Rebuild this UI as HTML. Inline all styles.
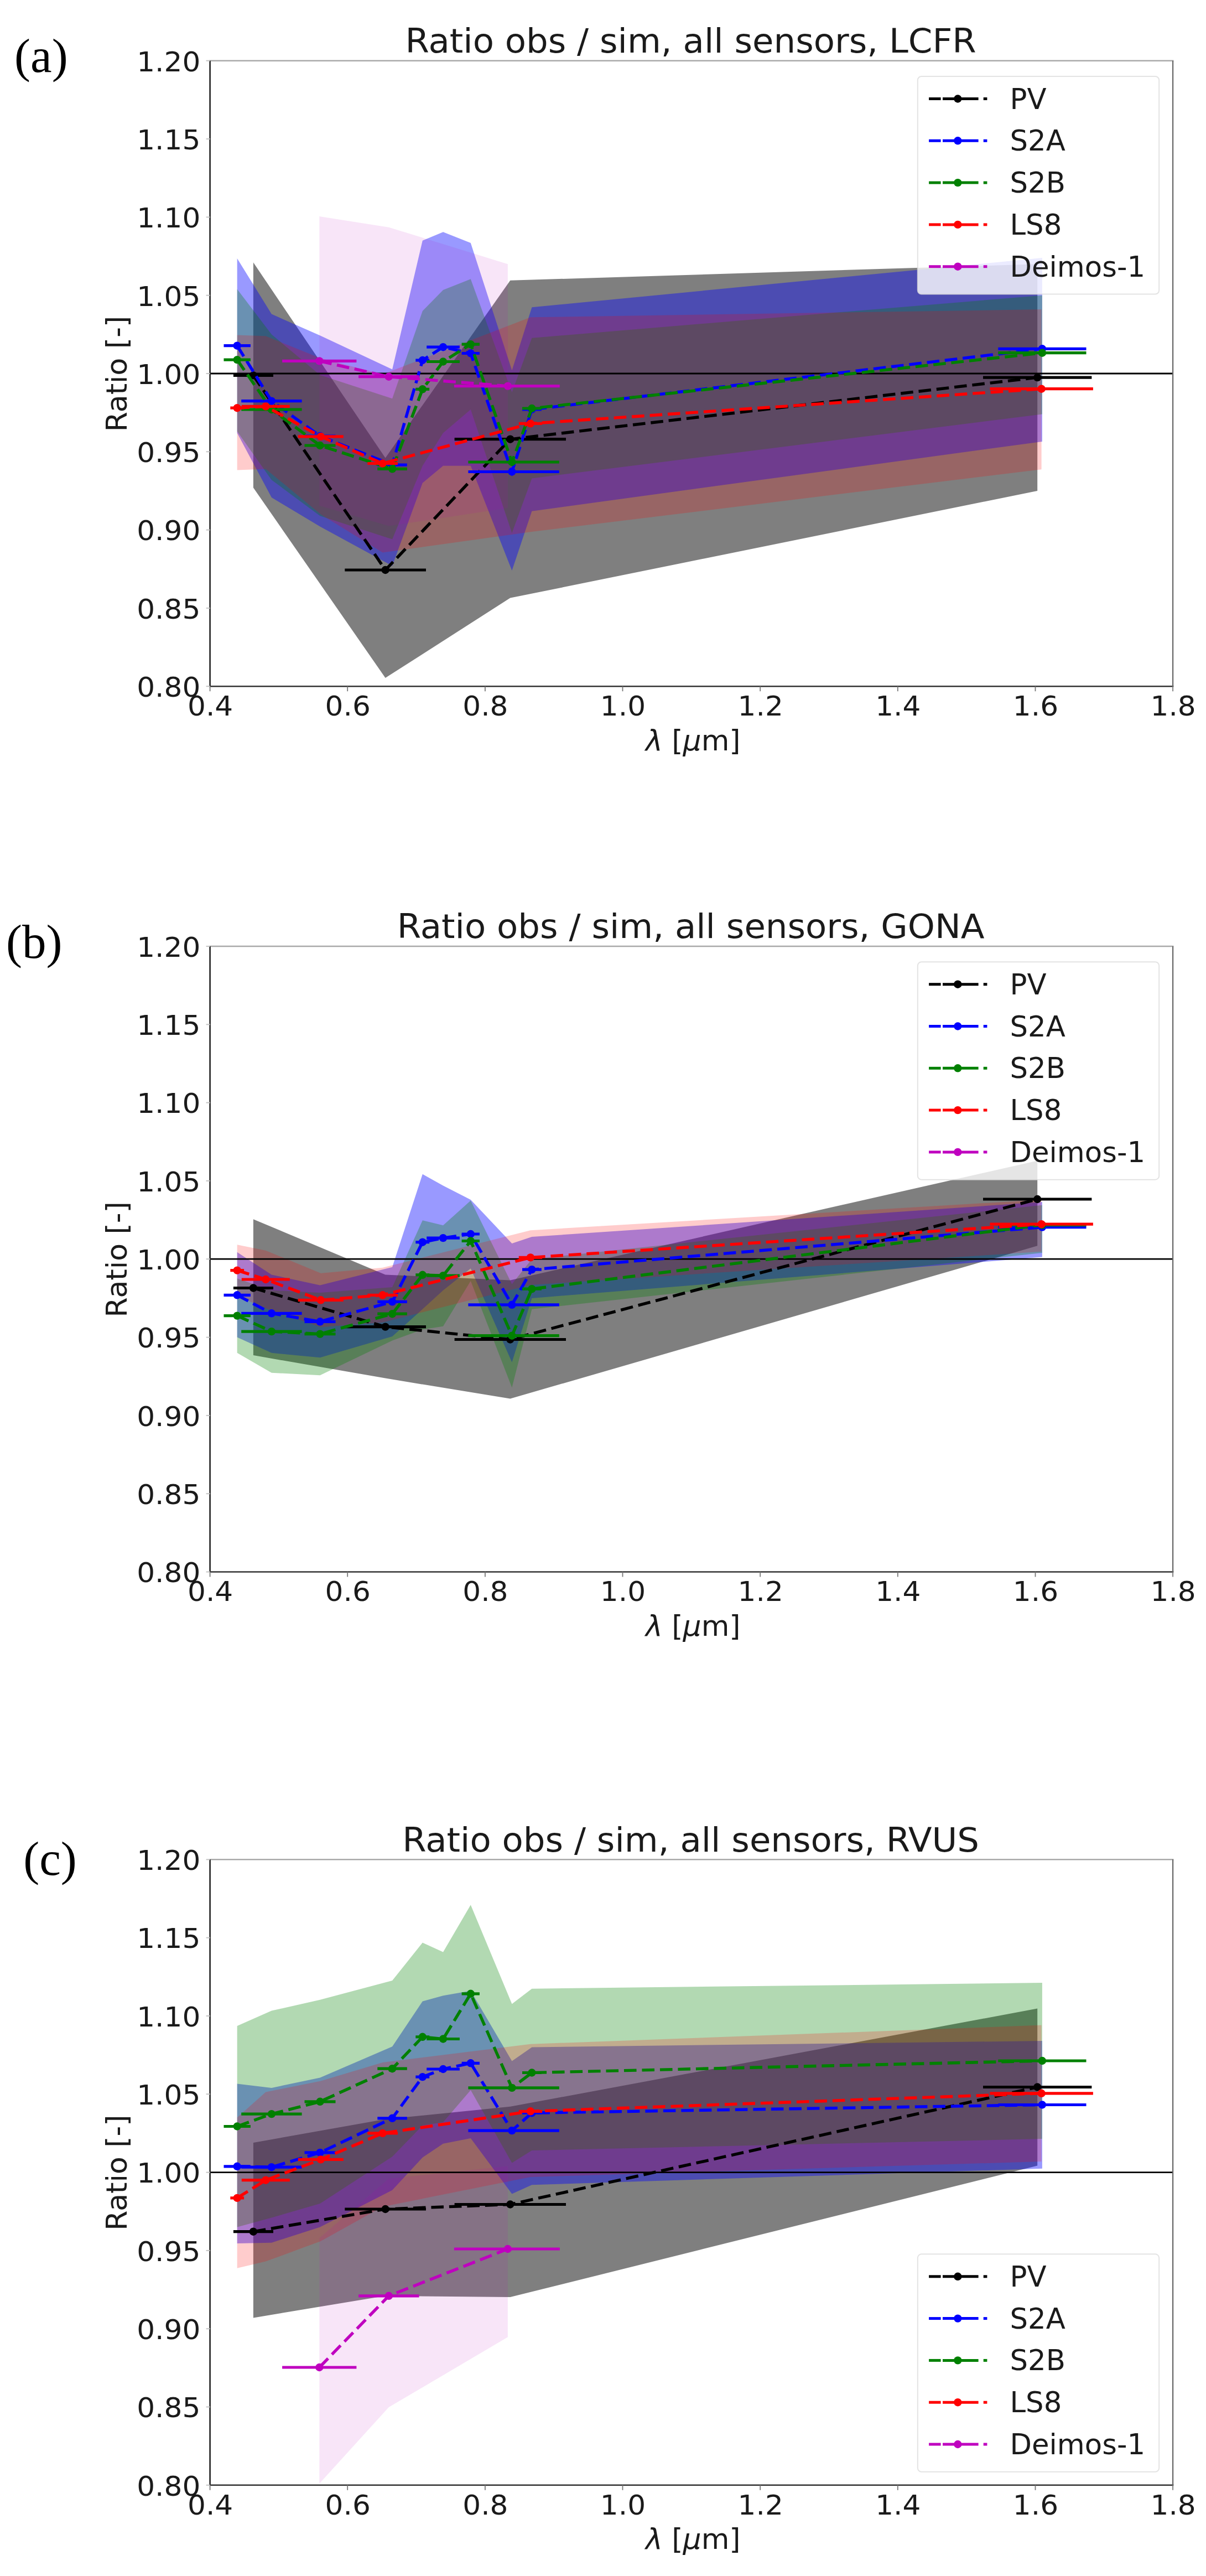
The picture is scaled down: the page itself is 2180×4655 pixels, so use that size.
<!DOCTYPE html>
<html lang="en"><head><meta charset="utf-8"><title>Ratio obs / sim, all sensors</title>
<style>html,body{margin:0;padding:0;background:#fff}body{width:2180px;height:4655px;overflow:hidden}svg{display:block}svg text{font-family:'DejaVu Sans','Liberation Sans',sans-serif;fill:#1a1a1a}svg text.lab{font-family:'Liberation Serif','DejaVu Serif',serif;fill:#000}</style></head><body>
<svg width="2180" height="4655" viewBox="0 0 2180 4655">
<rect width="2180" height="4655" fill="#fff"/>
<g id="chart1">
<clipPath id="clip0"><rect x="379.6" y="109.8" width="1740.5" height="1130.5"/></clipPath>
<g clip-path="url(#clip0)">
<polygon fill="#000000" fill-opacity="0.5" points="457.9,474.3 696.6,827.6 922.3,506.8 1875.2,477.2 1875.2,887.0 922.3,1080.6 696.6,1225.0 457.9,881.3"/>
<polygon fill="#0000ff" fill-opacity="0.4" points="428.7,467.0 490.9,567.6 578.5,606.3 709.1,667.4 763.8,434.8 801.0,419.2 850.8,439.0 925.4,669.3 961.4,555.2 1883.9,465.9 1883.9,797.9 961.4,923.7 925.4,1031.1 850.8,841.7 801.0,841.7 763.8,872.8 709.1,1022.6 578.5,951.4 490.9,899.1 428.7,782.4"/>
<polygon fill="#008000" fill-opacity="0.3" points="428.7,522.4 490.9,604.3 578.5,677.8 709.1,720.2 763.8,561.9 801.0,524.1 850.8,504.3 925.4,708.9 961.4,610.8 1883.9,533.7 1883.9,748.5 961.4,864.4 925.4,963.3 850.8,740.0 801.0,782.4 763.8,841.7 709.1,974.6 578.5,932.2 490.9,867.2 428.7,779.6"/>
<polygon fill="#ff0000" fill-opacity="0.2" points="428.7,605.5 480.3,607.2 579.8,647.6 691.6,676.4 958.9,573.3 1882.6,559.1 1882.6,848.2 958.9,961.3 691.6,998.6 579.8,929.4 480.3,847.4 428.7,849.4"/>
<polygon fill="#bf00bf" fill-opacity="0.1" points="577.3,391.0 702.8,410.7 917.9,477.2 917.9,918.1 702.8,950.6 577.3,913.8"/>
<line x1="379.6" x2="2120.1" y1="675.0" y2="675.0" stroke="#000" stroke-width="2.8"/>
<polyline fill="none" stroke="#000000" stroke-width="5.4" stroke-dasharray="22.6 9.9" points="457.9,678.4 696.6,1030.0 922.3,793.7 1875.2,682.1"/>
<line x1="421.9" x2="494.0" y1="678.4" y2="678.4" stroke="#000000" stroke-width="5.2"/>
<line x1="623.3" x2="770.0" y1="1030.0" y2="1030.0" stroke="#000000" stroke-width="5.2"/>
<line x1="821.6" x2="1023.0" y1="793.7" y2="793.7" stroke="#000000" stroke-width="5.2"/>
<line x1="1777.0" x2="1973.4" y1="682.1" y2="682.1" stroke="#000000" stroke-width="5.2"/>
<circle cx="457.9" cy="678.4" r="7.2" fill="#000000"/>
<circle cx="696.6" cy="1030.0" r="7.2" fill="#000000"/>
<circle cx="922.3" cy="793.7" r="7.2" fill="#000000"/>
<circle cx="1875.2" cy="682.1" r="7.2" fill="#000000"/>
<polyline fill="none" stroke="#0000ff" stroke-width="5.4" stroke-dasharray="22.6 9.9" points="428.7,624.7 490.9,724.7 578.5,788.0 709.1,840.1 763.8,651.0 801.0,627.2 850.8,638.5 925.4,852.5 961.4,740.0 1883.9,630.3"/>
<line x1="404.5" x2="452.9" y1="624.7" y2="624.7" stroke="#0000ff" stroke-width="5.2"/>
<line x1="436.2" x2="545.6" y1="724.7" y2="724.7" stroke="#0000ff" stroke-width="5.2"/>
<line x1="550.5" x2="606.5" y1="788.0" y2="788.0" stroke="#0000ff" stroke-width="5.2"/>
<line x1="682.3" x2="735.8" y1="840.1" y2="840.1" stroke="#0000ff" stroke-width="5.2"/>
<line x1="751.3" x2="776.2" y1="651.0" y2="651.0" stroke="#0000ff" stroke-width="5.2"/>
<line x1="771.2" x2="830.9" y1="627.2" y2="627.2" stroke="#0000ff" stroke-width="5.2"/>
<line x1="834.6" x2="866.9" y1="638.5" y2="638.5" stroke="#0000ff" stroke-width="5.2"/>
<line x1="846.4" x2="1010.8" y1="852.5" y2="852.5" stroke="#0000ff" stroke-width="5.2"/>
<line x1="944.0" x2="978.8" y1="740.0" y2="740.0" stroke="#0000ff" stroke-width="5.2"/>
<line x1="1804.3" x2="1963.5" y1="630.3" y2="630.3" stroke="#0000ff" stroke-width="5.2"/>
<circle cx="428.7" cy="624.7" r="7.2" fill="#0000ff"/>
<circle cx="490.9" cy="724.7" r="7.2" fill="#0000ff"/>
<circle cx="578.5" cy="788.0" r="7.2" fill="#0000ff"/>
<circle cx="709.1" cy="840.1" r="7.2" fill="#0000ff"/>
<circle cx="763.8" cy="651.0" r="7.2" fill="#0000ff"/>
<circle cx="801.0" cy="627.2" r="7.2" fill="#0000ff"/>
<circle cx="850.8" cy="638.5" r="7.2" fill="#0000ff"/>
<circle cx="925.4" cy="852.5" r="7.2" fill="#0000ff"/>
<circle cx="961.4" cy="740.0" r="7.2" fill="#0000ff"/>
<circle cx="1883.9" cy="630.3" r="7.2" fill="#0000ff"/>
<polyline fill="none" stroke="#008000" stroke-width="5.4" stroke-dasharray="22.6 9.9" points="428.7,650.1 490.9,740.0 578.5,805.0 709.1,847.4 763.8,703.3 801.0,653.5 850.8,622.1 925.4,835.0 961.4,738.0 1883.9,637.7"/>
<line x1="404.5" x2="452.9" y1="650.1" y2="650.1" stroke="#008000" stroke-width="5.2"/>
<line x1="436.2" x2="545.6" y1="740.0" y2="740.0" stroke="#008000" stroke-width="5.2"/>
<line x1="550.5" x2="606.5" y1="805.0" y2="805.0" stroke="#008000" stroke-width="5.2"/>
<line x1="682.3" x2="735.8" y1="847.4" y2="847.4" stroke="#008000" stroke-width="5.2"/>
<line x1="751.3" x2="776.2" y1="703.3" y2="703.3" stroke="#008000" stroke-width="5.2"/>
<line x1="771.2" x2="830.9" y1="653.5" y2="653.5" stroke="#008000" stroke-width="5.2"/>
<line x1="834.6" x2="866.9" y1="622.1" y2="622.1" stroke="#008000" stroke-width="5.2"/>
<line x1="846.4" x2="1010.8" y1="835.0" y2="835.0" stroke="#008000" stroke-width="5.2"/>
<line x1="944.0" x2="978.8" y1="738.0" y2="738.0" stroke="#008000" stroke-width="5.2"/>
<line x1="1804.3" x2="1963.5" y1="637.7" y2="637.7" stroke="#008000" stroke-width="5.2"/>
<circle cx="428.7" cy="650.1" r="7.2" fill="#008000"/>
<circle cx="490.9" cy="740.0" r="7.2" fill="#008000"/>
<circle cx="578.5" cy="805.0" r="7.2" fill="#008000"/>
<circle cx="709.1" cy="847.4" r="7.2" fill="#008000"/>
<circle cx="763.8" cy="703.3" r="7.2" fill="#008000"/>
<circle cx="801.0" cy="653.5" r="7.2" fill="#008000"/>
<circle cx="850.8" cy="622.1" r="7.2" fill="#008000"/>
<circle cx="925.4" cy="835.0" r="7.2" fill="#008000"/>
<circle cx="961.4" cy="738.0" r="7.2" fill="#008000"/>
<circle cx="1883.9" cy="637.7" r="7.2" fill="#008000"/>
<polyline fill="none" stroke="#ff0000" stroke-width="5.4" stroke-dasharray="22.6 9.9" points="428.7,737.2 480.3,734.4 579.8,788.9 691.6,837.5 958.9,765.4 1882.6,702.7"/>
<line x1="416.3" x2="441.1" y1="737.2" y2="737.2" stroke="#ff0000" stroke-width="5.2"/>
<line x1="436.8" x2="523.8" y1="734.4" y2="734.4" stroke="#ff0000" stroke-width="5.2"/>
<line x1="538.7" x2="620.8" y1="788.9" y2="788.9" stroke="#ff0000" stroke-width="5.2"/>
<line x1="664.3" x2="719.0" y1="837.5" y2="837.5" stroke="#ff0000" stroke-width="5.2"/>
<line x1="937.8" x2="980.1" y1="765.4" y2="765.4" stroke="#ff0000" stroke-width="5.2"/>
<line x1="1789.4" x2="1975.9" y1="702.7" y2="702.7" stroke="#ff0000" stroke-width="5.2"/>
<circle cx="428.7" cy="737.2" r="7.2" fill="#ff0000"/>
<circle cx="480.3" cy="734.4" r="7.2" fill="#ff0000"/>
<circle cx="579.8" cy="788.9" r="7.2" fill="#ff0000"/>
<circle cx="691.6" cy="837.5" r="7.2" fill="#ff0000"/>
<circle cx="958.9" cy="765.4" r="7.2" fill="#ff0000"/>
<circle cx="1882.6" cy="702.7" r="7.2" fill="#ff0000"/>
<polyline fill="none" stroke="#bf00bf" stroke-width="5.4" stroke-dasharray="22.6 9.9" points="577.3,652.4 702.8,680.7 917.9,697.6"/>
<line x1="510.1" x2="644.4" y1="652.4" y2="652.4" stroke="#bf00bf" stroke-width="5.2"/>
<line x1="648.1" x2="757.5" y1="680.7" y2="680.7" stroke="#bf00bf" stroke-width="5.2"/>
<line x1="820.9" x2="1011.9" y1="697.6" y2="697.6" stroke="#bf00bf" stroke-width="5.2"/>
<circle cx="577.3" cy="652.4" r="7.2" fill="#bf00bf"/>
<circle cx="702.8" cy="680.7" r="7.2" fill="#bf00bf"/>
<circle cx="917.9" cy="697.6" r="7.2" fill="#bf00bf"/>
</g>
<line x1="378.3" x2="2121.4" y1="109.8" y2="109.8" stroke="#a9a9a9" stroke-width="2.6"/>
<line x1="378.3" x2="2121.4" y1="1240.2" y2="1240.2" stroke="#333" stroke-width="2.4"/>
<line x1="379.6" x2="379.6" y1="109.8" y2="1240.2" stroke="#222" stroke-width="2.6"/>
<line x1="2120.1" x2="2120.1" y1="109.8" y2="1240.2" stroke="#666" stroke-width="2.2"/>
<line x1="379.6" x2="379.6" y1="1240.2" y2="1249.2" stroke="#777" stroke-width="1.8"/>
<text transform="translate(380.1 1293.0) scale(1.035 1)" text-anchor="middle" font-size="50">0.4</text>
<line x1="628.2" x2="628.2" y1="1240.2" y2="1249.2" stroke="#777" stroke-width="1.8"/>
<text transform="translate(628.7 1293.0) scale(1.035 1)" text-anchor="middle" font-size="50">0.6</text>
<line x1="876.9" x2="876.9" y1="1240.2" y2="1249.2" stroke="#777" stroke-width="1.8"/>
<text transform="translate(877.4 1293.0) scale(1.035 1)" text-anchor="middle" font-size="50">0.8</text>
<line x1="1125.5" x2="1125.5" y1="1240.2" y2="1249.2" stroke="#777" stroke-width="1.8"/>
<text transform="translate(1126.0 1293.0) scale(1.035 1)" text-anchor="middle" font-size="50">1.0</text>
<line x1="1374.2" x2="1374.2" y1="1240.2" y2="1249.2" stroke="#777" stroke-width="1.8"/>
<text transform="translate(1374.7 1293.0) scale(1.035 1)" text-anchor="middle" font-size="50">1.2</text>
<line x1="1622.8" x2="1622.8" y1="1240.2" y2="1249.2" stroke="#777" stroke-width="1.8"/>
<text transform="translate(1623.3 1293.0) scale(1.035 1)" text-anchor="middle" font-size="50">1.4</text>
<line x1="1871.5" x2="1871.5" y1="1240.2" y2="1249.2" stroke="#777" stroke-width="1.8"/>
<text transform="translate(1872.0 1293.0) scale(1.035 1)" text-anchor="middle" font-size="50">1.6</text>
<line x1="2120.1" x2="2120.1" y1="1240.2" y2="1249.2" stroke="#777" stroke-width="1.8"/>
<text transform="translate(2120.6 1293.0) scale(1.035 1)" text-anchor="middle" font-size="50">1.8</text>
<line x1="372.6" x2="379.6" y1="1240.2" y2="1240.2" stroke="#c4c4c4" stroke-width="2"/>
<text transform="translate(362.4 1259.0) scale(1.035 1)" text-anchor="end" font-size="50">0.80</text>
<line x1="372.6" x2="379.6" y1="1098.9" y2="1098.9" stroke="#c4c4c4" stroke-width="2"/>
<text transform="translate(362.4 1117.7) scale(1.035 1)" text-anchor="end" font-size="50">0.85</text>
<line x1="372.6" x2="379.6" y1="957.6" y2="957.6" stroke="#c4c4c4" stroke-width="2"/>
<text transform="translate(362.4 976.4) scale(1.035 1)" text-anchor="end" font-size="50">0.90</text>
<line x1="372.6" x2="379.6" y1="816.3" y2="816.3" stroke="#c4c4c4" stroke-width="2"/>
<text transform="translate(362.4 835.1) scale(1.035 1)" text-anchor="end" font-size="50">0.95</text>
<line x1="372.6" x2="379.6" y1="675.0" y2="675.0" stroke="#c4c4c4" stroke-width="2"/>
<text transform="translate(362.4 693.8) scale(1.035 1)" text-anchor="end" font-size="50">1.00</text>
<line x1="372.6" x2="379.6" y1="533.7" y2="533.7" stroke="#c4c4c4" stroke-width="2"/>
<text transform="translate(362.4 552.5) scale(1.035 1)" text-anchor="end" font-size="50">1.05</text>
<line x1="372.6" x2="379.6" y1="392.4" y2="392.4" stroke="#c4c4c4" stroke-width="2"/>
<text transform="translate(362.4 411.2) scale(1.035 1)" text-anchor="end" font-size="50">1.10</text>
<line x1="372.6" x2="379.6" y1="251.1" y2="251.1" stroke="#c4c4c4" stroke-width="2"/>
<text transform="translate(362.4 269.9) scale(1.035 1)" text-anchor="end" font-size="50">1.15</text>
<line x1="372.6" x2="379.6" y1="109.7" y2="109.7" stroke="#c4c4c4" stroke-width="2"/>
<text transform="translate(362.4 128.5) scale(1.035 1)" text-anchor="end" font-size="50">1.20</text>
<text transform="translate(1248.6 95.0) scale(1.025 1)" text-anchor="middle" font-size="61">Ratio obs / sim, all sensors, LCFR</text>
<text x="1252.8" y="1355.7" text-anchor="middle" font-size="52"><tspan font-style="italic">λ</tspan> [<tspan font-style="italic">μ</tspan>m]</text>
<text transform="translate(228.7 675.5) rotate(-90)" text-anchor="middle" font-size="52">Ratio [-]</text>
<rect x="1658.8" y="138.0" width="436.4" height="393.5" rx="7" ry="7" fill="#fff" fill-opacity="0.8" stroke="#dcdcdc" stroke-opacity="0.8" stroke-width="2"/>
<line x1="1679.1" x2="1700.6" y1="178.5" y2="178.5" stroke="#000000" stroke-width="5"/>
<line x1="1704" x2="1768.6" y1="178.5" y2="178.5" stroke="#000000" stroke-width="5"/>
<line x1="1777.7" x2="1784.4" y1="178.5" y2="178.5" stroke="#000000" stroke-width="5"/>
<circle cx="1731.3" cy="178.5" r="7.2" fill="#000000"/>
<text x="1825.5" y="196.5" font-size="51.3">PV</text>
<line x1="1679.1" x2="1700.6" y1="254.3" y2="254.3" stroke="#0000ff" stroke-width="5"/>
<line x1="1704" x2="1768.6" y1="254.3" y2="254.3" stroke="#0000ff" stroke-width="5"/>
<line x1="1777.7" x2="1784.4" y1="254.3" y2="254.3" stroke="#0000ff" stroke-width="5"/>
<circle cx="1731.3" cy="254.3" r="7.2" fill="#0000ff"/>
<text x="1825.5" y="272.3" font-size="51.3">S2A</text>
<line x1="1679.1" x2="1700.6" y1="330.1" y2="330.1" stroke="#008000" stroke-width="5"/>
<line x1="1704" x2="1768.6" y1="330.1" y2="330.1" stroke="#008000" stroke-width="5"/>
<line x1="1777.7" x2="1784.4" y1="330.1" y2="330.1" stroke="#008000" stroke-width="5"/>
<circle cx="1731.3" cy="330.1" r="7.2" fill="#008000"/>
<text x="1825.5" y="348.1" font-size="51.3">S2B</text>
<line x1="1679.1" x2="1700.6" y1="405.9" y2="405.9" stroke="#ff0000" stroke-width="5"/>
<line x1="1704" x2="1768.6" y1="405.9" y2="405.9" stroke="#ff0000" stroke-width="5"/>
<line x1="1777.7" x2="1784.4" y1="405.9" y2="405.9" stroke="#ff0000" stroke-width="5"/>
<circle cx="1731.3" cy="405.9" r="7.2" fill="#ff0000"/>
<text x="1825.5" y="423.9" font-size="51.3">LS8</text>
<line x1="1679.1" x2="1700.6" y1="481.7" y2="481.7" stroke="#bf00bf" stroke-width="5"/>
<line x1="1704" x2="1768.6" y1="481.7" y2="481.7" stroke="#bf00bf" stroke-width="5"/>
<line x1="1777.7" x2="1784.4" y1="481.7" y2="481.7" stroke="#bf00bf" stroke-width="5"/>
<circle cx="1731.3" cy="481.7" r="7.2" fill="#bf00bf"/>
<text x="1825.5" y="499.7" font-size="51.3">Deimos-1</text>
</g>
<g id="chart2">
<clipPath id="clip1"><rect x="379.6" y="1710.0" width="1740.5" height="1130.5"/></clipPath>
<g clip-path="url(#clip1)">
<polygon fill="#000000" fill-opacity="0.5" points="457.9,2203.2 696.6,2303.5 922.3,2313.4 1875.2,2097.5 1875.2,2251.2 922.3,2527.6 696.6,2490.6 457.9,2449.1"/>
<polygon fill="#0000ff" fill-opacity="0.4" points="428.7,2262.8 490.9,2303.5 578.5,2322.4 709.1,2289.7 763.8,2121.8 801.0,2142.4 850.8,2167.9 925.4,2247.0 961.4,2235.1 1883.9,2172.1 1883.9,2271.6 961.4,2345.9 925.4,2461.8 850.8,2292.2 801.0,2331.8 763.8,2365.7 709.1,2415.1 578.5,2453.3 490.9,2444.8 428.7,2416.6"/>
<polygon fill="#008000" fill-opacity="0.3" points="428.7,2310.3 490.9,2331.8 578.5,2336.0 709.1,2326.1 763.8,2205.2 801.0,2214.2 850.8,2169.5 925.4,2320.5 961.4,2275.2 1883.9,2177.7 1883.9,2263.9 961.4,2365.7 925.4,2507.6 850.8,2314.8 801.0,2396.8 763.8,2402.4 709.1,2422.5 578.5,2485.2 490.9,2480.7 428.7,2444.8"/>
<polygon fill="#ff0000" fill-opacity="0.2" points="428.7,2249.2 480.3,2259.7 579.8,2300.7 691.6,2290.8 958.9,2223.2 1882.6,2167.9 1882.6,2261.7 958.9,2321.9 691.6,2389.7 579.8,2398.2 480.3,2364.3 428.7,2341.9"/>
<line x1="379.6" x2="2120.1" y1="2275.2" y2="2275.2" stroke="#000" stroke-width="2.8"/>
<polyline fill="none" stroke="#000000" stroke-width="5.4" stroke-dasharray="22.6 9.9" points="457.9,2327.5 696.6,2397.6 922.3,2420.5 1875.2,2167.0"/>
<line x1="421.9" x2="494.0" y1="2327.5" y2="2327.5" stroke="#000000" stroke-width="5.2"/>
<line x1="623.3" x2="770.0" y1="2397.6" y2="2397.6" stroke="#000000" stroke-width="5.2"/>
<line x1="821.6" x2="1023.0" y1="2420.5" y2="2420.5" stroke="#000000" stroke-width="5.2"/>
<line x1="1777.0" x2="1973.4" y1="2167.0" y2="2167.0" stroke="#000000" stroke-width="5.2"/>
<circle cx="457.9" cy="2327.5" r="7.2" fill="#000000"/>
<circle cx="696.6" cy="2397.6" r="7.2" fill="#000000"/>
<circle cx="922.3" cy="2420.5" r="7.2" fill="#000000"/>
<circle cx="1875.2" cy="2167.0" r="7.2" fill="#000000"/>
<polyline fill="none" stroke="#0000ff" stroke-width="5.4" stroke-dasharray="22.6 9.9" points="428.7,2340.3 490.9,2373.3 578.5,2388.3 709.1,2352.4 763.8,2244.7 801.0,2237.1 850.8,2230.0 925.4,2357.8 961.4,2294.2 1883.9,2217.6"/>
<line x1="404.5" x2="452.9" y1="2340.3" y2="2340.3" stroke="#0000ff" stroke-width="5.2"/>
<line x1="436.2" x2="545.6" y1="2373.3" y2="2373.3" stroke="#0000ff" stroke-width="5.2"/>
<line x1="550.5" x2="606.5" y1="2388.3" y2="2388.3" stroke="#0000ff" stroke-width="5.2"/>
<line x1="682.3" x2="735.8" y1="2352.4" y2="2352.4" stroke="#0000ff" stroke-width="5.2"/>
<line x1="751.3" x2="776.2" y1="2244.7" y2="2244.7" stroke="#0000ff" stroke-width="5.2"/>
<line x1="771.2" x2="830.9" y1="2237.1" y2="2237.1" stroke="#0000ff" stroke-width="5.2"/>
<line x1="834.6" x2="866.9" y1="2230.0" y2="2230.0" stroke="#0000ff" stroke-width="5.2"/>
<line x1="846.4" x2="1010.8" y1="2357.8" y2="2357.8" stroke="#0000ff" stroke-width="5.2"/>
<line x1="944.0" x2="978.8" y1="2294.2" y2="2294.2" stroke="#0000ff" stroke-width="5.2"/>
<line x1="1804.3" x2="1963.5" y1="2217.6" y2="2217.6" stroke="#0000ff" stroke-width="5.2"/>
<circle cx="428.7" cy="2340.3" r="7.2" fill="#0000ff"/>
<circle cx="490.9" cy="2373.3" r="7.2" fill="#0000ff"/>
<circle cx="578.5" cy="2388.3" r="7.2" fill="#0000ff"/>
<circle cx="709.1" cy="2352.4" r="7.2" fill="#0000ff"/>
<circle cx="763.8" cy="2244.7" r="7.2" fill="#0000ff"/>
<circle cx="801.0" cy="2237.1" r="7.2" fill="#0000ff"/>
<circle cx="850.8" cy="2230.0" r="7.2" fill="#0000ff"/>
<circle cx="925.4" cy="2357.8" r="7.2" fill="#0000ff"/>
<circle cx="961.4" cy="2294.2" r="7.2" fill="#0000ff"/>
<circle cx="1883.9" cy="2217.6" r="7.2" fill="#0000ff"/>
<polyline fill="none" stroke="#008000" stroke-width="5.4" stroke-dasharray="22.6 9.9" points="428.7,2377.6 490.9,2406.1 578.5,2410.6 709.1,2374.2 763.8,2303.8 801.0,2305.2 850.8,2242.5 925.4,2413.7 961.4,2329.2 1883.9,2213.6"/>
<line x1="404.5" x2="452.9" y1="2377.6" y2="2377.6" stroke="#008000" stroke-width="5.2"/>
<line x1="436.2" x2="545.6" y1="2406.1" y2="2406.1" stroke="#008000" stroke-width="5.2"/>
<line x1="550.5" x2="606.5" y1="2410.6" y2="2410.6" stroke="#008000" stroke-width="5.2"/>
<line x1="682.3" x2="735.8" y1="2374.2" y2="2374.2" stroke="#008000" stroke-width="5.2"/>
<line x1="751.3" x2="776.2" y1="2303.8" y2="2303.8" stroke="#008000" stroke-width="5.2"/>
<line x1="771.2" x2="830.9" y1="2305.2" y2="2305.2" stroke="#008000" stroke-width="5.2"/>
<line x1="834.6" x2="866.9" y1="2242.5" y2="2242.5" stroke="#008000" stroke-width="5.2"/>
<line x1="846.4" x2="1010.8" y1="2413.7" y2="2413.7" stroke="#008000" stroke-width="5.2"/>
<line x1="944.0" x2="978.8" y1="2329.2" y2="2329.2" stroke="#008000" stroke-width="5.2"/>
<line x1="1804.3" x2="1963.5" y1="2213.6" y2="2213.6" stroke="#008000" stroke-width="5.2"/>
<circle cx="428.7" cy="2377.6" r="7.2" fill="#008000"/>
<circle cx="490.9" cy="2406.1" r="7.2" fill="#008000"/>
<circle cx="578.5" cy="2410.6" r="7.2" fill="#008000"/>
<circle cx="709.1" cy="2374.2" r="7.2" fill="#008000"/>
<circle cx="763.8" cy="2303.8" r="7.2" fill="#008000"/>
<circle cx="801.0" cy="2305.2" r="7.2" fill="#008000"/>
<circle cx="850.8" cy="2242.5" r="7.2" fill="#008000"/>
<circle cx="925.4" cy="2413.7" r="7.2" fill="#008000"/>
<circle cx="961.4" cy="2329.2" r="7.2" fill="#008000"/>
<circle cx="1883.9" cy="2213.6" r="7.2" fill="#008000"/>
<polyline fill="none" stroke="#ff0000" stroke-width="5.4" stroke-dasharray="22.6 9.9" points="428.7,2295.6 480.3,2312.0 579.8,2349.3 691.6,2340.3 958.9,2272.4 1882.6,2212.2"/>
<line x1="416.3" x2="441.1" y1="2295.6" y2="2295.6" stroke="#ff0000" stroke-width="5.2"/>
<line x1="436.8" x2="523.8" y1="2312.0" y2="2312.0" stroke="#ff0000" stroke-width="5.2"/>
<line x1="538.7" x2="620.8" y1="2349.3" y2="2349.3" stroke="#ff0000" stroke-width="5.2"/>
<line x1="664.3" x2="719.0" y1="2340.3" y2="2340.3" stroke="#ff0000" stroke-width="5.2"/>
<line x1="937.8" x2="980.1" y1="2272.4" y2="2272.4" stroke="#ff0000" stroke-width="5.2"/>
<line x1="1789.4" x2="1975.9" y1="2212.2" y2="2212.2" stroke="#ff0000" stroke-width="5.2"/>
<circle cx="428.7" cy="2295.6" r="7.2" fill="#ff0000"/>
<circle cx="480.3" cy="2312.0" r="7.2" fill="#ff0000"/>
<circle cx="579.8" cy="2349.3" r="7.2" fill="#ff0000"/>
<circle cx="691.6" cy="2340.3" r="7.2" fill="#ff0000"/>
<circle cx="958.9" cy="2272.4" r="7.2" fill="#ff0000"/>
<circle cx="1882.6" cy="2212.2" r="7.2" fill="#ff0000"/>
</g>
<line x1="378.3" x2="2121.4" y1="1710.0" y2="1710.0" stroke="#a9a9a9" stroke-width="2.6"/>
<line x1="378.3" x2="2121.4" y1="2840.5" y2="2840.5" stroke="#333" stroke-width="2.4"/>
<line x1="379.6" x2="379.6" y1="1710.0" y2="2840.5" stroke="#222" stroke-width="2.6"/>
<line x1="2120.1" x2="2120.1" y1="1710.0" y2="2840.5" stroke="#666" stroke-width="2.2"/>
<line x1="379.6" x2="379.6" y1="2840.5" y2="2849.5" stroke="#777" stroke-width="1.8"/>
<text transform="translate(380.1 2893.3) scale(1.035 1)" text-anchor="middle" font-size="50">0.4</text>
<line x1="628.2" x2="628.2" y1="2840.5" y2="2849.5" stroke="#777" stroke-width="1.8"/>
<text transform="translate(628.7 2893.3) scale(1.035 1)" text-anchor="middle" font-size="50">0.6</text>
<line x1="876.9" x2="876.9" y1="2840.5" y2="2849.5" stroke="#777" stroke-width="1.8"/>
<text transform="translate(877.4 2893.3) scale(1.035 1)" text-anchor="middle" font-size="50">0.8</text>
<line x1="1125.5" x2="1125.5" y1="2840.5" y2="2849.5" stroke="#777" stroke-width="1.8"/>
<text transform="translate(1126.0 2893.3) scale(1.035 1)" text-anchor="middle" font-size="50">1.0</text>
<line x1="1374.2" x2="1374.2" y1="2840.5" y2="2849.5" stroke="#777" stroke-width="1.8"/>
<text transform="translate(1374.7 2893.3) scale(1.035 1)" text-anchor="middle" font-size="50">1.2</text>
<line x1="1622.8" x2="1622.8" y1="2840.5" y2="2849.5" stroke="#777" stroke-width="1.8"/>
<text transform="translate(1623.3 2893.3) scale(1.035 1)" text-anchor="middle" font-size="50">1.4</text>
<line x1="1871.5" x2="1871.5" y1="2840.5" y2="2849.5" stroke="#777" stroke-width="1.8"/>
<text transform="translate(1872.0 2893.3) scale(1.035 1)" text-anchor="middle" font-size="50">1.6</text>
<line x1="2120.1" x2="2120.1" y1="2840.5" y2="2849.5" stroke="#777" stroke-width="1.8"/>
<text transform="translate(2120.6 2893.3) scale(1.035 1)" text-anchor="middle" font-size="50">1.8</text>
<line x1="372.6" x2="379.6" y1="2840.5" y2="2840.5" stroke="#c4c4c4" stroke-width="2"/>
<text transform="translate(362.4 2859.3) scale(1.035 1)" text-anchor="end" font-size="50">0.80</text>
<line x1="372.6" x2="379.6" y1="2699.2" y2="2699.2" stroke="#c4c4c4" stroke-width="2"/>
<text transform="translate(362.4 2718.0) scale(1.035 1)" text-anchor="end" font-size="50">0.85</text>
<line x1="372.6" x2="379.6" y1="2557.9" y2="2557.9" stroke="#c4c4c4" stroke-width="2"/>
<text transform="translate(362.4 2576.7) scale(1.035 1)" text-anchor="end" font-size="50">0.90</text>
<line x1="372.6" x2="379.6" y1="2416.6" y2="2416.6" stroke="#c4c4c4" stroke-width="2"/>
<text transform="translate(362.4 2435.4) scale(1.035 1)" text-anchor="end" font-size="50">0.95</text>
<line x1="372.6" x2="379.6" y1="2275.2" y2="2275.2" stroke="#c4c4c4" stroke-width="2"/>
<text transform="translate(362.4 2294.1) scale(1.035 1)" text-anchor="end" font-size="50">1.00</text>
<line x1="372.6" x2="379.6" y1="2133.9" y2="2133.9" stroke="#c4c4c4" stroke-width="2"/>
<text transform="translate(362.4 2152.7) scale(1.035 1)" text-anchor="end" font-size="50">1.05</text>
<line x1="372.6" x2="379.6" y1="1992.6" y2="1992.6" stroke="#c4c4c4" stroke-width="2"/>
<text transform="translate(362.4 2011.4) scale(1.035 1)" text-anchor="end" font-size="50">1.10</text>
<line x1="372.6" x2="379.6" y1="1851.3" y2="1851.3" stroke="#c4c4c4" stroke-width="2"/>
<text transform="translate(362.4 1870.1) scale(1.035 1)" text-anchor="end" font-size="50">1.15</text>
<line x1="372.6" x2="379.6" y1="1710.0" y2="1710.0" stroke="#c4c4c4" stroke-width="2"/>
<text transform="translate(362.4 1728.8) scale(1.035 1)" text-anchor="end" font-size="50">1.20</text>
<text transform="translate(1248.6 1695.2) scale(1.025 1)" text-anchor="middle" font-size="61">Ratio obs / sim, all sensors, GONA</text>
<text x="1252.8" y="2955.9" text-anchor="middle" font-size="52"><tspan font-style="italic">λ</tspan> [<tspan font-style="italic">μ</tspan>m]</text>
<text transform="translate(228.7 2275.8) rotate(-90)" text-anchor="middle" font-size="52">Ratio [-]</text>
<rect x="1658.8" y="1738.2" width="436.4" height="393.5" rx="7" ry="7" fill="#fff" fill-opacity="0.8" stroke="#dcdcdc" stroke-opacity="0.8" stroke-width="2"/>
<line x1="1679.1" x2="1700.6" y1="1778.7" y2="1778.7" stroke="#000000" stroke-width="5"/>
<line x1="1704" x2="1768.6" y1="1778.7" y2="1778.7" stroke="#000000" stroke-width="5"/>
<line x1="1777.7" x2="1784.4" y1="1778.7" y2="1778.7" stroke="#000000" stroke-width="5"/>
<circle cx="1731.3" cy="1778.7" r="7.2" fill="#000000"/>
<text x="1825.5" y="1796.7" font-size="51.3">PV</text>
<line x1="1679.1" x2="1700.6" y1="1854.5" y2="1854.5" stroke="#0000ff" stroke-width="5"/>
<line x1="1704" x2="1768.6" y1="1854.5" y2="1854.5" stroke="#0000ff" stroke-width="5"/>
<line x1="1777.7" x2="1784.4" y1="1854.5" y2="1854.5" stroke="#0000ff" stroke-width="5"/>
<circle cx="1731.3" cy="1854.5" r="7.2" fill="#0000ff"/>
<text x="1825.5" y="1872.5" font-size="51.3">S2A</text>
<line x1="1679.1" x2="1700.6" y1="1930.3" y2="1930.3" stroke="#008000" stroke-width="5"/>
<line x1="1704" x2="1768.6" y1="1930.3" y2="1930.3" stroke="#008000" stroke-width="5"/>
<line x1="1777.7" x2="1784.4" y1="1930.3" y2="1930.3" stroke="#008000" stroke-width="5"/>
<circle cx="1731.3" cy="1930.3" r="7.2" fill="#008000"/>
<text x="1825.5" y="1948.3" font-size="51.3">S2B</text>
<line x1="1679.1" x2="1700.6" y1="2006.1" y2="2006.1" stroke="#ff0000" stroke-width="5"/>
<line x1="1704" x2="1768.6" y1="2006.1" y2="2006.1" stroke="#ff0000" stroke-width="5"/>
<line x1="1777.7" x2="1784.4" y1="2006.1" y2="2006.1" stroke="#ff0000" stroke-width="5"/>
<circle cx="1731.3" cy="2006.1" r="7.2" fill="#ff0000"/>
<text x="1825.5" y="2024.1" font-size="51.3">LS8</text>
<line x1="1679.1" x2="1700.6" y1="2081.9" y2="2081.9" stroke="#bf00bf" stroke-width="5"/>
<line x1="1704" x2="1768.6" y1="2081.9" y2="2081.9" stroke="#bf00bf" stroke-width="5"/>
<line x1="1777.7" x2="1784.4" y1="2081.9" y2="2081.9" stroke="#bf00bf" stroke-width="5"/>
<circle cx="1731.3" cy="2081.9" r="7.2" fill="#bf00bf"/>
<text x="1825.5" y="2099.9" font-size="51.3">Deimos-1</text>
</g>
<g id="chart3">
<clipPath id="clip2"><rect x="379.6" y="3360.3" width="1740.5" height="1130.5"/></clipPath>
<g clip-path="url(#clip2)">
<polygon fill="#000000" fill-opacity="0.5" points="457.9,3871.9 696.6,3829.5 922.3,3806.8 1875.2,3629.6 1875.2,3913.4 922.3,4151.1 696.6,4148.8 457.9,4188.4"/>
<polygon fill="#0000ff" fill-opacity="0.4" points="428.7,3765.6 490.9,3772.9 578.5,3754.6 709.1,3698.3 763.8,3616.4 801.0,3606.2 850.8,3597.4 925.4,3724.6 961.4,3699.4 1883.9,3688.1 1883.9,3918.8 961.4,3948.2 925.4,3964.6 850.8,3863.9 801.0,3873.8 763.8,3898.7 709.1,3957.8 578.5,4024.5 490.9,4052.7 428.7,4054.1"/>
<polygon fill="#008000" fill-opacity="0.3" points="428.7,3661.0 490.9,3633.6 578.5,3613.8 709.1,3579.1 763.8,3510.4 801.0,3527.6 850.8,3442.3 925.4,3621.2 961.4,3593.7 1883.9,3583.0 1883.9,3865.1 961.4,3886.0 925.4,3908.6 850.8,3776.9 801.0,3835.1 763.8,3840.8 709.1,3897.3 578.5,3982.1 490.9,4007.5 428.7,4024.5"/>
<polygon fill="#ff0000" fill-opacity="0.2" points="428.7,3826.6 480.3,3780.6 579.8,3760.5 691.6,3727.1 958.9,3693.8 1882.6,3659.6 1882.6,3906.0 958.9,3934.0 691.6,3987.7 579.8,4049.9 480.3,4086.6 428.7,4098.8"/>
<polygon fill="#bf00bf" fill-opacity="0.1" points="577.3,4044.3 702.8,3936.9 917.9,3914.2 917.9,4223.2 702.8,4350.1 577.3,4488.0"/>
<line x1="379.6" x2="2120.1" y1="3925.6" y2="3925.6" stroke="#000" stroke-width="2.8"/>
<polyline fill="none" stroke="#000000" stroke-width="5.4" stroke-dasharray="22.6 9.9" points="457.9,4032.7 696.6,3992.0 922.3,3983.5 1875.2,3771.5"/>
<line x1="421.9" x2="494.0" y1="4032.7" y2="4032.7" stroke="#000000" stroke-width="5.2"/>
<line x1="623.3" x2="770.0" y1="3992.0" y2="3992.0" stroke="#000000" stroke-width="5.2"/>
<line x1="821.6" x2="1023.0" y1="3983.5" y2="3983.5" stroke="#000000" stroke-width="5.2"/>
<line x1="1777.0" x2="1973.4" y1="3771.5" y2="3771.5" stroke="#000000" stroke-width="5.2"/>
<circle cx="457.9" cy="4032.7" r="7.2" fill="#000000"/>
<circle cx="696.6" cy="3992.0" r="7.2" fill="#000000"/>
<circle cx="922.3" cy="3983.5" r="7.2" fill="#000000"/>
<circle cx="1875.2" cy="3771.5" r="7.2" fill="#000000"/>
<polyline fill="none" stroke="#0000ff" stroke-width="5.4" stroke-dasharray="22.6 9.9" points="428.7,3914.8 490.9,3916.2 578.5,3889.9 709.1,3827.8 763.8,3753.1 801.0,3739.0 850.8,3728.3 925.4,3850.1 961.4,3818.2 1883.9,3803.5"/>
<line x1="404.5" x2="452.9" y1="3914.8" y2="3914.8" stroke="#0000ff" stroke-width="5.2"/>
<line x1="436.2" x2="545.6" y1="3916.2" y2="3916.2" stroke="#0000ff" stroke-width="5.2"/>
<line x1="550.5" x2="606.5" y1="3889.9" y2="3889.9" stroke="#0000ff" stroke-width="5.2"/>
<line x1="682.3" x2="735.8" y1="3827.8" y2="3827.8" stroke="#0000ff" stroke-width="5.2"/>
<line x1="751.3" x2="776.2" y1="3753.1" y2="3753.1" stroke="#0000ff" stroke-width="5.2"/>
<line x1="771.2" x2="830.9" y1="3739.0" y2="3739.0" stroke="#0000ff" stroke-width="5.2"/>
<line x1="834.6" x2="866.9" y1="3728.3" y2="3728.3" stroke="#0000ff" stroke-width="5.2"/>
<line x1="846.4" x2="1010.8" y1="3850.1" y2="3850.1" stroke="#0000ff" stroke-width="5.2"/>
<line x1="944.0" x2="978.8" y1="3818.2" y2="3818.2" stroke="#0000ff" stroke-width="5.2"/>
<line x1="1804.3" x2="1963.5" y1="3803.5" y2="3803.5" stroke="#0000ff" stroke-width="5.2"/>
<circle cx="428.7" cy="3914.8" r="7.2" fill="#0000ff"/>
<circle cx="490.9" cy="3916.2" r="7.2" fill="#0000ff"/>
<circle cx="578.5" cy="3889.9" r="7.2" fill="#0000ff"/>
<circle cx="709.1" cy="3827.8" r="7.2" fill="#0000ff"/>
<circle cx="763.8" cy="3753.1" r="7.2" fill="#0000ff"/>
<circle cx="801.0" cy="3739.0" r="7.2" fill="#0000ff"/>
<circle cx="850.8" cy="3728.3" r="7.2" fill="#0000ff"/>
<circle cx="925.4" cy="3850.1" r="7.2" fill="#0000ff"/>
<circle cx="961.4" cy="3818.2" r="7.2" fill="#0000ff"/>
<circle cx="1883.9" cy="3803.5" r="7.2" fill="#0000ff"/>
<polyline fill="none" stroke="#008000" stroke-width="5.4" stroke-dasharray="22.6 9.9" points="428.7,3842.5 490.9,3820.1 578.5,3797.8 709.1,3738.2 763.8,3680.8 801.0,3684.5 850.8,3602.8 925.4,3772.9 961.4,3745.5 1883.9,3724.0"/>
<line x1="404.5" x2="452.9" y1="3842.5" y2="3842.5" stroke="#008000" stroke-width="5.2"/>
<line x1="436.2" x2="545.6" y1="3820.1" y2="3820.1" stroke="#008000" stroke-width="5.2"/>
<line x1="550.5" x2="606.5" y1="3797.8" y2="3797.8" stroke="#008000" stroke-width="5.2"/>
<line x1="682.3" x2="735.8" y1="3738.2" y2="3738.2" stroke="#008000" stroke-width="5.2"/>
<line x1="751.3" x2="776.2" y1="3680.8" y2="3680.8" stroke="#008000" stroke-width="5.2"/>
<line x1="771.2" x2="830.9" y1="3684.5" y2="3684.5" stroke="#008000" stroke-width="5.2"/>
<line x1="834.6" x2="866.9" y1="3602.8" y2="3602.8" stroke="#008000" stroke-width="5.2"/>
<line x1="846.4" x2="1010.8" y1="3772.9" y2="3772.9" stroke="#008000" stroke-width="5.2"/>
<line x1="944.0" x2="978.8" y1="3745.5" y2="3745.5" stroke="#008000" stroke-width="5.2"/>
<line x1="1804.3" x2="1963.5" y1="3724.0" y2="3724.0" stroke="#008000" stroke-width="5.2"/>
<circle cx="428.7" cy="3842.5" r="7.2" fill="#008000"/>
<circle cx="490.9" cy="3820.1" r="7.2" fill="#008000"/>
<circle cx="578.5" cy="3797.8" r="7.2" fill="#008000"/>
<circle cx="709.1" cy="3738.2" r="7.2" fill="#008000"/>
<circle cx="763.8" cy="3680.8" r="7.2" fill="#008000"/>
<circle cx="801.0" cy="3684.5" r="7.2" fill="#008000"/>
<circle cx="850.8" cy="3602.8" r="7.2" fill="#008000"/>
<circle cx="925.4" cy="3772.9" r="7.2" fill="#008000"/>
<circle cx="961.4" cy="3745.5" r="7.2" fill="#008000"/>
<circle cx="1883.9" cy="3724.0" r="7.2" fill="#008000"/>
<polyline fill="none" stroke="#ff0000" stroke-width="5.4" stroke-dasharray="22.6 9.9" points="428.7,3971.9 480.3,3939.7 579.8,3902.4 691.6,3854.9 958.9,3815.3 1882.6,3782.8"/>
<line x1="416.3" x2="441.1" y1="3971.9" y2="3971.9" stroke="#ff0000" stroke-width="5.2"/>
<line x1="436.8" x2="523.8" y1="3939.7" y2="3939.7" stroke="#ff0000" stroke-width="5.2"/>
<line x1="538.7" x2="620.8" y1="3902.4" y2="3902.4" stroke="#ff0000" stroke-width="5.2"/>
<line x1="664.3" x2="719.0" y1="3854.9" y2="3854.9" stroke="#ff0000" stroke-width="5.2"/>
<line x1="937.8" x2="980.1" y1="3815.3" y2="3815.3" stroke="#ff0000" stroke-width="5.2"/>
<line x1="1789.4" x2="1975.9" y1="3782.8" y2="3782.8" stroke="#ff0000" stroke-width="5.2"/>
<circle cx="428.7" cy="3971.9" r="7.2" fill="#ff0000"/>
<circle cx="480.3" cy="3939.7" r="7.2" fill="#ff0000"/>
<circle cx="579.8" cy="3902.4" r="7.2" fill="#ff0000"/>
<circle cx="691.6" cy="3854.9" r="7.2" fill="#ff0000"/>
<circle cx="958.9" cy="3815.3" r="7.2" fill="#ff0000"/>
<circle cx="1882.6" cy="3782.8" r="7.2" fill="#ff0000"/>
<polyline fill="none" stroke="#bf00bf" stroke-width="5.4" stroke-dasharray="22.6 9.9" points="577.3,4278.0 702.8,4148.8 917.9,4064.0"/>
<line x1="510.1" x2="644.4" y1="4278.0" y2="4278.0" stroke="#bf00bf" stroke-width="5.2"/>
<line x1="648.1" x2="757.5" y1="4148.8" y2="4148.8" stroke="#bf00bf" stroke-width="5.2"/>
<line x1="820.9" x2="1011.9" y1="4064.0" y2="4064.0" stroke="#bf00bf" stroke-width="5.2"/>
<circle cx="577.3" cy="4278.0" r="7.2" fill="#bf00bf"/>
<circle cx="702.8" cy="4148.8" r="7.2" fill="#bf00bf"/>
<circle cx="917.9" cy="4064.0" r="7.2" fill="#bf00bf"/>
</g>
<line x1="378.3" x2="2121.4" y1="3360.3" y2="3360.3" stroke="#a9a9a9" stroke-width="2.6"/>
<line x1="378.3" x2="2121.4" y1="4490.8" y2="4490.8" stroke="#333" stroke-width="2.4"/>
<line x1="379.6" x2="379.6" y1="3360.3" y2="4490.8" stroke="#222" stroke-width="2.6"/>
<line x1="2120.1" x2="2120.1" y1="3360.3" y2="4490.8" stroke="#666" stroke-width="2.2"/>
<line x1="379.6" x2="379.6" y1="4490.8" y2="4499.8" stroke="#777" stroke-width="1.8"/>
<text transform="translate(380.1 4543.6) scale(1.035 1)" text-anchor="middle" font-size="50">0.4</text>
<line x1="628.2" x2="628.2" y1="4490.8" y2="4499.8" stroke="#777" stroke-width="1.8"/>
<text transform="translate(628.7 4543.6) scale(1.035 1)" text-anchor="middle" font-size="50">0.6</text>
<line x1="876.9" x2="876.9" y1="4490.8" y2="4499.8" stroke="#777" stroke-width="1.8"/>
<text transform="translate(877.4 4543.6) scale(1.035 1)" text-anchor="middle" font-size="50">0.8</text>
<line x1="1125.5" x2="1125.5" y1="4490.8" y2="4499.8" stroke="#777" stroke-width="1.8"/>
<text transform="translate(1126.0 4543.6) scale(1.035 1)" text-anchor="middle" font-size="50">1.0</text>
<line x1="1374.2" x2="1374.2" y1="4490.8" y2="4499.8" stroke="#777" stroke-width="1.8"/>
<text transform="translate(1374.7 4543.6) scale(1.035 1)" text-anchor="middle" font-size="50">1.2</text>
<line x1="1622.8" x2="1622.8" y1="4490.8" y2="4499.8" stroke="#777" stroke-width="1.8"/>
<text transform="translate(1623.3 4543.6) scale(1.035 1)" text-anchor="middle" font-size="50">1.4</text>
<line x1="1871.5" x2="1871.5" y1="4490.8" y2="4499.8" stroke="#777" stroke-width="1.8"/>
<text transform="translate(1872.0 4543.6) scale(1.035 1)" text-anchor="middle" font-size="50">1.6</text>
<line x1="2120.1" x2="2120.1" y1="4490.8" y2="4499.8" stroke="#777" stroke-width="1.8"/>
<text transform="translate(2120.6 4543.6) scale(1.035 1)" text-anchor="middle" font-size="50">1.8</text>
<line x1="372.6" x2="379.6" y1="4490.8" y2="4490.8" stroke="#c4c4c4" stroke-width="2"/>
<text transform="translate(362.4 4509.6) scale(1.035 1)" text-anchor="end" font-size="50">0.80</text>
<line x1="372.6" x2="379.6" y1="4349.5" y2="4349.5" stroke="#c4c4c4" stroke-width="2"/>
<text transform="translate(362.4 4368.3) scale(1.035 1)" text-anchor="end" font-size="50">0.85</text>
<line x1="372.6" x2="379.6" y1="4208.2" y2="4208.2" stroke="#c4c4c4" stroke-width="2"/>
<text transform="translate(362.4 4227.0) scale(1.035 1)" text-anchor="end" font-size="50">0.90</text>
<line x1="372.6" x2="379.6" y1="4066.9" y2="4066.9" stroke="#c4c4c4" stroke-width="2"/>
<text transform="translate(362.4 4085.7) scale(1.035 1)" text-anchor="end" font-size="50">0.95</text>
<line x1="372.6" x2="379.6" y1="3925.6" y2="3925.6" stroke="#c4c4c4" stroke-width="2"/>
<text transform="translate(362.4 3944.4) scale(1.035 1)" text-anchor="end" font-size="50">1.00</text>
<line x1="372.6" x2="379.6" y1="3784.2" y2="3784.2" stroke="#c4c4c4" stroke-width="2"/>
<text transform="translate(362.4 3803.0) scale(1.035 1)" text-anchor="end" font-size="50">1.05</text>
<line x1="372.6" x2="379.6" y1="3642.9" y2="3642.9" stroke="#c4c4c4" stroke-width="2"/>
<text transform="translate(362.4 3661.7) scale(1.035 1)" text-anchor="end" font-size="50">1.10</text>
<line x1="372.6" x2="379.6" y1="3501.6" y2="3501.6" stroke="#c4c4c4" stroke-width="2"/>
<text transform="translate(362.4 3520.4) scale(1.035 1)" text-anchor="end" font-size="50">1.15</text>
<line x1="372.6" x2="379.6" y1="3360.3" y2="3360.3" stroke="#c4c4c4" stroke-width="2"/>
<text transform="translate(362.4 3379.1) scale(1.035 1)" text-anchor="end" font-size="50">1.20</text>
<text transform="translate(1248.6 3345.5) scale(1.025 1)" text-anchor="middle" font-size="61">Ratio obs / sim, all sensors, RVUS</text>
<text x="1252.8" y="4606.2" text-anchor="middle" font-size="52"><tspan font-style="italic">λ</tspan> [<tspan font-style="italic">μ</tspan>m]</text>
<text transform="translate(228.7 3926.1) rotate(-90)" text-anchor="middle" font-size="52">Ratio [-]</text>
<rect x="1658.8" y="4073.3" width="436.4" height="393.5" rx="7" ry="7" fill="#fff" fill-opacity="0.8" stroke="#dcdcdc" stroke-opacity="0.8" stroke-width="2"/>
<line x1="1679.1" x2="1700.6" y1="4113.8" y2="4113.8" stroke="#000000" stroke-width="5"/>
<line x1="1704" x2="1768.6" y1="4113.8" y2="4113.8" stroke="#000000" stroke-width="5"/>
<line x1="1777.7" x2="1784.4" y1="4113.8" y2="4113.8" stroke="#000000" stroke-width="5"/>
<circle cx="1731.3" cy="4113.8" r="7.2" fill="#000000"/>
<text x="1825.5" y="4131.8" font-size="51.3">PV</text>
<line x1="1679.1" x2="1700.6" y1="4189.6" y2="4189.6" stroke="#0000ff" stroke-width="5"/>
<line x1="1704" x2="1768.6" y1="4189.6" y2="4189.6" stroke="#0000ff" stroke-width="5"/>
<line x1="1777.7" x2="1784.4" y1="4189.6" y2="4189.6" stroke="#0000ff" stroke-width="5"/>
<circle cx="1731.3" cy="4189.6" r="7.2" fill="#0000ff"/>
<text x="1825.5" y="4207.6" font-size="51.3">S2A</text>
<line x1="1679.1" x2="1700.6" y1="4265.4" y2="4265.4" stroke="#008000" stroke-width="5"/>
<line x1="1704" x2="1768.6" y1="4265.4" y2="4265.4" stroke="#008000" stroke-width="5"/>
<line x1="1777.7" x2="1784.4" y1="4265.4" y2="4265.4" stroke="#008000" stroke-width="5"/>
<circle cx="1731.3" cy="4265.4" r="7.2" fill="#008000"/>
<text x="1825.5" y="4283.4" font-size="51.3">S2B</text>
<line x1="1679.1" x2="1700.6" y1="4341.2" y2="4341.2" stroke="#ff0000" stroke-width="5"/>
<line x1="1704" x2="1768.6" y1="4341.2" y2="4341.2" stroke="#ff0000" stroke-width="5"/>
<line x1="1777.7" x2="1784.4" y1="4341.2" y2="4341.2" stroke="#ff0000" stroke-width="5"/>
<circle cx="1731.3" cy="4341.2" r="7.2" fill="#ff0000"/>
<text x="1825.5" y="4359.2" font-size="51.3">LS8</text>
<line x1="1679.1" x2="1700.6" y1="4417.0" y2="4417.0" stroke="#bf00bf" stroke-width="5"/>
<line x1="1704" x2="1768.6" y1="4417.0" y2="4417.0" stroke="#bf00bf" stroke-width="5"/>
<line x1="1777.7" x2="1784.4" y1="4417.0" y2="4417.0" stroke="#bf00bf" stroke-width="5"/>
<circle cx="1731.3" cy="4417.0" r="7.2" fill="#bf00bf"/>
<text x="1825.5" y="4435.0" font-size="51.3">Deimos-1</text>
</g>
<text class="lab" x="26.1" y="129.5" font-size="87">(a)</text>
<text class="lab" x="11.1" y="1731.1" font-size="87">(b)</text>
<text class="lab" x="42.2" y="3388.2" font-size="87">(c)</text>
</svg></body></html>
